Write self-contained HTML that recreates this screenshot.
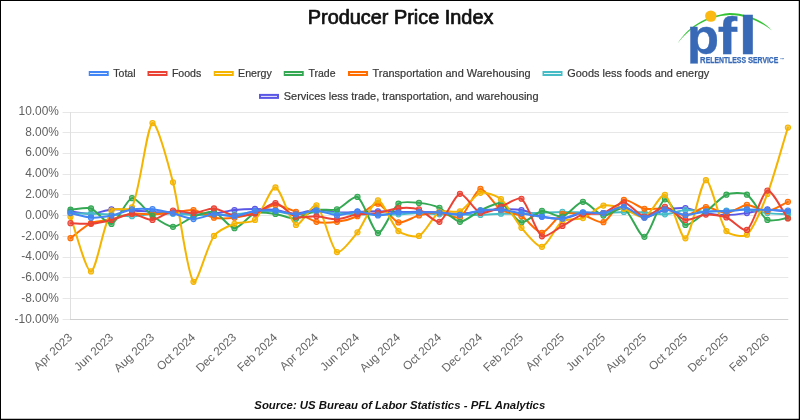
<!DOCTYPE html>
<html lang="en"><head><meta charset="utf-8"><title>Producer Price Index</title>
<style>html,body{margin:0;padding:0;background:#fff;}body{width:800px;height:420px;overflow:hidden;}svg{display:block;will-change:transform;opacity:0.999;}text{font-family:"Liberation Sans",Arial,sans-serif;}</style></head><body>
<svg width="800" height="420" viewBox="0 0 800 420">
<text x="400.6" y="23.5" text-anchor="middle" font-size="19.3" fill="#111" stroke="#111" stroke-width="0.7" stroke-linejoin="round" textLength="185.6" lengthAdjust="spacingAndGlyphs">Producer Price Index</text>
<g id="logo">
<path d="M677.6 43.4 C687.5 27.5 705 15.6 729.5 13 C747 13.2 762 20 772 30.4 C761 21.6 746 15.3 729.5 14.9 C706 16.6 689 28.3 677.6 43.4Z" fill="#35c335"/>
<circle cx="710.8" cy="16.1" r="5.7" fill="#fdb913"/>
<g font-size="100" font-weight="bold" fill="#3769b6" stroke="#3769b6" stroke-width="0.6">
<clipPath id="pc"><rect x="680" y="0" width="45" height="63.5"/></clipPath>
<g clip-path="url(#pc)"><text transform="translate(686.79 53.7) scale(0.53 0.505)">p</text></g>
<text transform="translate(717.84 53.7) scale(0.58 0.52)">f</text>
<text transform="translate(738.13 53.7) scale(0.696 0.53)">l</text>
</g>
<text x="700.1" y="63.2" font-size="8.3" font-weight="bold" fill="#3769b6" stroke="#3769b6" stroke-width="0.25" textLength="78.3" lengthAdjust="spacingAndGlyphs"><tspan font-size="9.3">R</tspan>ELENTLESS <tspan font-size="9.3">S</tspan>ERVICE</text>
<text x="779.8" y="60.6" font-size="4.5" font-weight="bold" fill="#3769b6">™</text>
</g>
<rect x="89.75" y="72.00" width="18" height="3" fill="#4285f4" fill-opacity="0.12" stroke="#4285f4" stroke-width="2"/>
<text x="113.30" y="77.10" font-size="11.2" fill="#383838" stroke="#383838" stroke-width="0.22" textLength="22.3" lengthAdjust="spacingAndGlyphs">Total</text>
<rect x="148.50" y="72.00" width="18" height="3" fill="#ea4335" fill-opacity="0.12" stroke="#ea4335" stroke-width="2"/>
<text x="171.90" y="77.10" font-size="11.2" fill="#383838" stroke="#383838" stroke-width="0.22" textLength="29.4" lengthAdjust="spacingAndGlyphs">Foods</text>
<rect x="214.75" y="72.00" width="18" height="3" fill="#f4b400" fill-opacity="0.12" stroke="#f4b400" stroke-width="2"/>
<text x="238.10" y="77.10" font-size="11.2" fill="#383838" stroke="#383838" stroke-width="0.22" textLength="33.7" lengthAdjust="spacingAndGlyphs">Energy</text>
<rect x="284.75" y="72.00" width="18" height="3" fill="#34a853" fill-opacity="0.12" stroke="#34a853" stroke-width="2"/>
<text x="308.50" y="77.10" font-size="11.2" fill="#383838" stroke="#383838" stroke-width="0.22" textLength="27.0" lengthAdjust="spacingAndGlyphs">Trade</text>
<rect x="349.00" y="72.00" width="18" height="3" fill="#ff6d01" fill-opacity="0.12" stroke="#ff6d01" stroke-width="2"/>
<text x="372.60" y="77.10" font-size="11.2" fill="#383838" stroke="#383838" stroke-width="0.22" textLength="158" lengthAdjust="spacingAndGlyphs">Transportation and Warehousing</text>
<rect x="543.50" y="72.00" width="18" height="3" fill="#46bdc6" fill-opacity="0.12" stroke="#46bdc6" stroke-width="2"/>
<text x="567.30" y="77.10" font-size="11.2" fill="#383838" stroke="#383838" stroke-width="0.22" textLength="142" lengthAdjust="spacingAndGlyphs">Goods less foods and energy</text>
<rect x="260.00" y="94.90" width="18" height="3" fill="#5b57e6" fill-opacity="0.12" stroke="#5b57e6" stroke-width="2"/>
<text x="283.80" y="100.00" font-size="11.2" fill="#383838" stroke="#383838" stroke-width="0.22" textLength="254.7" lengthAdjust="spacingAndGlyphs">Services less trade, transportation, and warehousing</text>
<path d="M62.6 112.5H788.30M62.6 132.5H788.30M62.6 153.5H788.30M62.6 174.5H788.30M62.6 194.5H788.30M62.6 215.5H788.30M62.6 236.5H788.30M62.6 257.5H788.30M62.6 277.5H788.30M62.6 298.5H788.30" stroke="#e7e7e7" stroke-width="1" fill="none"/>
<path d="M62.6 319.5H70.5" stroke="#e7e7e7" stroke-width="1" fill="none"/>
<path d="M70.5 112V320" stroke="#dfdfdf" stroke-width="1" fill="none"/>
<path d="M70.0 319.5H788.30" stroke="#cfcfcf" stroke-width="1" fill="none"/>
<text x="58.9" y="114.80" text-anchor="end" font-size="11.9" fill="#616161">10.00%</text>
<text x="58.9" y="135.60" text-anchor="end" font-size="11.9" fill="#616161">8.00%</text>
<text x="58.9" y="156.40" text-anchor="end" font-size="11.9" fill="#616161">6.00%</text>
<text x="58.9" y="177.20" text-anchor="end" font-size="11.9" fill="#616161">4.00%</text>
<text x="58.9" y="198.00" text-anchor="end" font-size="11.9" fill="#616161">2.00%</text>
<text x="58.9" y="218.80" text-anchor="end" font-size="11.9" fill="#616161">0.00%</text>
<text x="58.9" y="239.60" text-anchor="end" font-size="11.9" fill="#616161">-2.00%</text>
<text x="58.9" y="260.40" text-anchor="end" font-size="11.9" fill="#616161">-4.00%</text>
<text x="58.9" y="281.20" text-anchor="end" font-size="11.9" fill="#616161">-6.00%</text>
<text x="58.9" y="302.00" text-anchor="end" font-size="11.9" fill="#616161">-8.00%</text>
<text x="58.9" y="322.80" text-anchor="end" font-size="11.9" fill="#616161">-10.00%</text>
<text transform="translate(73.10 338.30) rotate(-43.2)" text-anchor="end" font-size="11.75" fill="#666">Apr 2023</text>
<text transform="translate(114.09 338.30) rotate(-43.2)" text-anchor="end" font-size="11.75" fill="#666">Jun 2023</text>
<text transform="translate(155.09 338.30) rotate(-43.2)" text-anchor="end" font-size="11.75" fill="#666">Aug 2023</text>
<text transform="translate(196.08 338.30) rotate(-43.2)" text-anchor="end" font-size="11.75" fill="#666">Oct 2024</text>
<text transform="translate(237.08 338.30) rotate(-43.2)" text-anchor="end" font-size="11.75" fill="#666">Dec 2023</text>
<text transform="translate(278.07 338.30) rotate(-43.2)" text-anchor="end" font-size="11.75" fill="#666">Feb 2024</text>
<text transform="translate(319.07 338.30) rotate(-43.2)" text-anchor="end" font-size="11.75" fill="#666">Apr 2024</text>
<text transform="translate(360.06 338.30) rotate(-43.2)" text-anchor="end" font-size="11.75" fill="#666">Jun 2024</text>
<text transform="translate(401.05 338.30) rotate(-43.2)" text-anchor="end" font-size="11.75" fill="#666">Aug 2024</text>
<text transform="translate(442.05 338.30) rotate(-43.2)" text-anchor="end" font-size="11.75" fill="#666">Oct 2024</text>
<text transform="translate(483.04 338.30) rotate(-43.2)" text-anchor="end" font-size="11.75" fill="#666">Dec 2024</text>
<text transform="translate(524.04 338.30) rotate(-43.2)" text-anchor="end" font-size="11.75" fill="#666">Feb 2025</text>
<text transform="translate(565.03 338.30) rotate(-43.2)" text-anchor="end" font-size="11.75" fill="#666">Apr 2025</text>
<text transform="translate(606.03 338.30) rotate(-43.2)" text-anchor="end" font-size="11.75" fill="#666">Jun 2025</text>
<text transform="translate(647.02 338.30) rotate(-43.2)" text-anchor="end" font-size="11.75" fill="#666">Aug 2025</text>
<text transform="translate(688.01 338.30) rotate(-43.2)" text-anchor="end" font-size="11.75" fill="#666">Oct 2025</text>
<text transform="translate(729.01 338.30) rotate(-43.2)" text-anchor="end" font-size="11.75" fill="#666">Dec 2025</text>
<text transform="translate(770.00 338.30) rotate(-43.2)" text-anchor="end" font-size="11.75" fill="#666">Feb 2026</text>
<path d="M70.50 211.46C75.62 212.11 85.92 214.31 91.00 214.05C96.17 213.79 106.31 209.85 111.49 209.40C116.56 208.95 126.87 210.12 131.99 210.43C137.12 210.74 147.36 211.62 152.49 211.88C157.61 212.14 167.87 212.19 172.99 212.50C178.12 212.81 188.35 214.20 193.48 214.36C198.60 214.51 208.90 214.28 213.98 213.74C219.14 213.19 229.31 210.62 234.48 210.02C239.56 209.43 249.85 208.98 254.97 208.98C260.10 208.98 270.39 209.43 275.47 210.02C280.63 210.62 290.86 213.82 295.97 213.74C301.11 213.66 311.31 209.55 316.47 209.40C321.56 209.24 331.81 212.19 336.96 212.50C342.06 212.81 352.34 212.03 357.46 211.88C362.58 211.72 372.83 211.26 377.96 211.26C383.08 211.26 393.33 211.80 398.45 211.88C403.58 211.96 413.83 211.84 418.95 211.88C424.08 211.92 434.33 211.96 439.45 212.19C444.58 212.42 454.83 213.85 459.95 213.74C465.08 213.62 475.31 211.80 480.44 211.26C485.56 210.72 495.81 209.55 500.94 209.40C506.05 209.24 516.43 209.16 521.44 210.02C526.68 210.92 536.70 215.35 541.93 216.43C546.95 217.47 557.38 218.90 562.43 218.50C567.63 218.08 577.72 213.80 582.93 213.12C587.97 212.46 598.40 213.83 603.43 213.12C608.65 212.38 618.98 206.80 623.92 207.33C629.23 207.89 639.17 217.12 644.42 217.46C649.42 217.79 659.64 211.21 664.92 210.02C669.89 208.89 680.35 207.77 685.41 208.16C690.60 208.55 700.72 212.25 705.91 213.12C710.97 213.96 721.28 214.98 726.41 214.98C731.53 214.98 741.81 213.81 746.91 213.12C752.06 212.42 762.26 209.55 767.40 209.40C772.50 209.24 782.78 211.26 787.90 211.88" fill="none" stroke="#5b57e6" stroke-width="2.0" stroke-linejoin="round" stroke-linecap="round"/>
<g fill="#5b57e6" fill-opacity="0.62" stroke="#5b57e6" stroke-width="1.05"><circle cx="70.50" cy="211.46" r="2.6"/><circle cx="91.00" cy="214.05" r="2.6"/><circle cx="111.49" cy="209.40" r="2.6"/><circle cx="131.99" cy="210.43" r="2.6"/><circle cx="152.49" cy="211.88" r="2.6"/><circle cx="172.99" cy="212.50" r="2.6"/><circle cx="193.48" cy="214.36" r="2.6"/><circle cx="213.98" cy="213.74" r="2.6"/><circle cx="234.48" cy="210.02" r="2.6"/><circle cx="254.97" cy="208.98" r="2.6"/><circle cx="275.47" cy="210.02" r="2.6"/><circle cx="295.97" cy="213.74" r="2.6"/><circle cx="316.47" cy="209.40" r="2.6"/><circle cx="336.96" cy="212.50" r="2.6"/><circle cx="357.46" cy="211.88" r="2.6"/><circle cx="377.96" cy="211.26" r="2.6"/><circle cx="398.45" cy="211.88" r="2.6"/><circle cx="418.95" cy="211.88" r="2.6"/><circle cx="439.45" cy="212.19" r="2.6"/><circle cx="459.95" cy="213.74" r="2.6"/><circle cx="480.44" cy="211.26" r="2.6"/><circle cx="500.94" cy="209.40" r="2.6"/><circle cx="521.44" cy="210.02" r="2.6"/><circle cx="541.93" cy="216.43" r="2.6"/><circle cx="562.43" cy="218.50" r="2.6"/><circle cx="582.93" cy="213.12" r="2.6"/><circle cx="603.43" cy="213.12" r="2.6"/><circle cx="623.92" cy="207.33" r="2.6"/><circle cx="644.42" cy="217.46" r="2.6"/><circle cx="664.92" cy="210.02" r="2.6"/><circle cx="685.41" cy="208.16" r="2.6"/><circle cx="705.91" cy="213.12" r="2.6"/><circle cx="726.41" cy="214.98" r="2.6"/><circle cx="746.91" cy="213.12" r="2.6"/><circle cx="767.40" cy="209.40" r="2.6"/><circle cx="787.90" cy="211.88" r="2.6"/></g>
<path d="M70.50 213.53C75.62 213.53 85.88 213.40 91.00 213.53C96.12 213.66 106.38 214.23 111.49 214.57C116.62 214.90 126.88 216.32 131.99 216.22C137.13 216.12 147.35 214.05 152.49 213.74C157.59 213.43 167.87 213.58 172.99 213.74C178.11 213.89 188.35 214.82 193.48 214.98C198.60 215.13 208.86 215.06 213.98 214.98C219.11 214.90 229.37 214.75 234.48 214.36C239.62 213.97 249.83 212.27 254.97 211.88C260.08 211.49 270.39 210.87 275.47 211.26C280.64 211.65 290.83 214.90 295.97 214.98C301.08 215.06 311.32 212.11 316.47 211.88C321.57 211.65 331.84 212.81 336.96 213.12C342.09 213.43 352.33 214.20 357.46 214.36C362.58 214.51 372.83 214.36 377.96 214.36C383.08 214.36 393.33 214.51 398.45 214.36C403.58 214.20 413.83 213.12 418.95 213.12C424.08 213.12 434.32 214.20 439.45 214.36C444.57 214.51 454.82 214.28 459.95 214.36C465.07 214.44 475.32 215.06 480.44 214.98C485.57 214.90 495.81 213.89 500.94 213.74C506.06 213.58 516.32 213.87 521.44 213.74C526.56 213.61 536.81 212.94 541.93 212.70C547.06 212.47 557.31 211.90 562.43 211.88C567.55 211.85 577.80 212.34 582.93 212.50C588.05 212.65 598.30 213.20 603.43 213.12C608.55 213.04 618.80 211.96 623.92 211.88C629.04 211.80 639.31 212.19 644.42 212.50C649.55 212.81 659.84 214.67 664.92 214.36C670.09 214.05 680.24 210.33 685.41 210.02C690.49 209.71 700.78 211.80 705.91 211.88C711.03 211.96 721.28 210.95 726.41 210.64C731.53 210.33 741.82 209.09 746.91 209.40C752.07 209.71 762.24 212.49 767.40 213.12C772.49 213.73 782.78 214.05 787.90 214.36" fill="none" stroke="#46bdc6" stroke-width="2.0" stroke-linejoin="round" stroke-linecap="round"/>
<g fill="#46bdc6" fill-opacity="0.62" stroke="#46bdc6" stroke-width="1.05"><circle cx="70.50" cy="213.53" r="2.6"/><circle cx="91.00" cy="213.53" r="2.6"/><circle cx="111.49" cy="214.57" r="2.6"/><circle cx="131.99" cy="216.22" r="2.6"/><circle cx="152.49" cy="213.74" r="2.6"/><circle cx="172.99" cy="213.74" r="2.6"/><circle cx="193.48" cy="214.98" r="2.6"/><circle cx="213.98" cy="214.98" r="2.6"/><circle cx="234.48" cy="214.36" r="2.6"/><circle cx="254.97" cy="211.88" r="2.6"/><circle cx="275.47" cy="211.26" r="2.6"/><circle cx="295.97" cy="214.98" r="2.6"/><circle cx="316.47" cy="211.88" r="2.6"/><circle cx="336.96" cy="213.12" r="2.6"/><circle cx="357.46" cy="214.36" r="2.6"/><circle cx="377.96" cy="214.36" r="2.6"/><circle cx="398.45" cy="214.36" r="2.6"/><circle cx="418.95" cy="213.12" r="2.6"/><circle cx="439.45" cy="214.36" r="2.6"/><circle cx="459.95" cy="214.36" r="2.6"/><circle cx="480.44" cy="214.98" r="2.6"/><circle cx="500.94" cy="213.74" r="2.6"/><circle cx="521.44" cy="213.74" r="2.6"/><circle cx="541.93" cy="212.70" r="2.6"/><circle cx="562.43" cy="211.88" r="2.6"/><circle cx="582.93" cy="212.50" r="2.6"/><circle cx="603.43" cy="213.12" r="2.6"/><circle cx="623.92" cy="211.88" r="2.6"/><circle cx="644.42" cy="212.50" r="2.6"/><circle cx="664.92" cy="214.36" r="2.6"/><circle cx="685.41" cy="210.02" r="2.6"/><circle cx="705.91" cy="211.88" r="2.6"/><circle cx="726.41" cy="210.64" r="2.6"/><circle cx="746.91" cy="209.40" r="2.6"/><circle cx="767.40" cy="213.12" r="2.6"/><circle cx="787.90" cy="214.36" r="2.6"/></g>
<path d="M70.50 238.14C75.62 234.39 85.37 225.73 91.00 223.15C95.62 221.03 106.42 220.49 111.49 219.32C116.67 218.14 126.78 214.37 131.99 213.74C137.03 213.13 147.37 214.51 152.49 214.36C157.62 214.20 167.87 213.04 172.99 212.50C178.12 211.95 188.51 209.39 193.48 210.02C198.76 210.68 208.69 216.68 213.98 217.67C218.94 218.59 229.43 218.28 234.48 217.67C239.67 217.04 249.95 214.26 254.97 212.70C260.20 211.08 270.31 205.05 275.47 204.95C280.56 204.85 290.98 209.82 295.97 211.88C301.22 214.04 311.07 220.50 316.47 221.80C321.32 222.98 331.93 222.49 336.96 221.80C342.18 221.09 352.65 218.34 357.46 216.22C362.90 213.82 373.20 202.99 377.96 203.71C383.45 204.54 392.70 220.78 398.45 222.42C402.95 223.71 413.71 216.66 418.95 215.39C423.96 214.18 434.37 212.24 439.45 212.50C444.62 212.76 456.10 219.67 459.95 217.46C466.35 213.78 474.86 189.95 480.44 188.92C485.11 188.06 495.02 205.97 500.94 209.91C505.27 212.79 516.84 213.66 521.44 216.22C527.09 219.37 536.96 233.05 541.93 232.76C547.21 232.46 556.53 216.40 562.43 213.84C566.78 211.96 577.95 213.96 582.93 214.98C588.20 216.06 599.14 223.79 603.43 222.22C609.39 220.04 618.02 201.92 623.92 199.99C628.27 198.56 639.08 207.63 644.42 208.78C649.33 209.83 659.93 207.94 664.92 208.78C670.18 209.65 680.36 215.82 685.41 215.60C690.61 215.38 700.69 207.33 705.91 207.02C710.94 206.71 721.36 213.37 726.41 213.12C731.61 212.86 741.71 205.19 746.91 204.95C751.96 204.72 762.41 211.64 767.40 211.26C772.66 210.86 782.78 204.20 787.90 201.85" fill="none" stroke="#ff6d01" stroke-width="2.0" stroke-linejoin="round" stroke-linecap="round"/>
<g fill="#ff6d01" fill-opacity="0.62" stroke="#ff6d01" stroke-width="1.05"><circle cx="70.50" cy="238.14" r="2.6"/><circle cx="91.00" cy="223.15" r="2.6"/><circle cx="111.49" cy="219.32" r="2.6"/><circle cx="131.99" cy="213.74" r="2.6"/><circle cx="152.49" cy="214.36" r="2.6"/><circle cx="172.99" cy="212.50" r="2.6"/><circle cx="193.48" cy="210.02" r="2.6"/><circle cx="213.98" cy="217.67" r="2.6"/><circle cx="234.48" cy="217.67" r="2.6"/><circle cx="254.97" cy="212.70" r="2.6"/><circle cx="275.47" cy="204.95" r="2.6"/><circle cx="295.97" cy="211.88" r="2.6"/><circle cx="316.47" cy="221.80" r="2.6"/><circle cx="336.96" cy="221.80" r="2.6"/><circle cx="357.46" cy="216.22" r="2.6"/><circle cx="377.96" cy="203.71" r="2.6"/><circle cx="398.45" cy="222.42" r="2.6"/><circle cx="418.95" cy="215.39" r="2.6"/><circle cx="439.45" cy="212.50" r="2.6"/><circle cx="459.95" cy="217.46" r="2.6"/><circle cx="480.44" cy="188.92" r="2.6"/><circle cx="500.94" cy="209.91" r="2.6"/><circle cx="521.44" cy="216.22" r="2.6"/><circle cx="541.93" cy="232.76" r="2.6"/><circle cx="562.43" cy="213.84" r="2.6"/><circle cx="582.93" cy="214.98" r="2.6"/><circle cx="603.43" cy="222.22" r="2.6"/><circle cx="623.92" cy="199.99" r="2.6"/><circle cx="644.42" cy="208.78" r="2.6"/><circle cx="664.92" cy="208.78" r="2.6"/><circle cx="685.41" cy="215.60" r="2.6"/><circle cx="705.91" cy="207.02" r="2.6"/><circle cx="726.41" cy="213.12" r="2.6"/><circle cx="746.91" cy="204.95" r="2.6"/><circle cx="767.40" cy="211.26" r="2.6"/><circle cx="787.90" cy="201.85" r="2.6"/></g>
<path d="M70.50 209.71C75.62 209.40 86.45 206.88 91.00 208.47C96.69 210.45 107.01 225.11 111.49 223.98C117.25 222.52 126.37 199.23 131.99 198.13C136.62 197.22 146.97 212.04 152.49 215.91C157.22 219.23 167.82 226.78 172.99 226.87C178.07 226.96 188.14 218.59 193.48 216.63C198.39 214.84 209.42 210.59 213.98 211.88C219.66 213.48 229.28 228.06 234.48 228.21C239.53 228.37 249.30 215.09 254.97 213.12C259.55 211.53 270.41 213.26 275.47 213.95C280.66 214.65 290.99 219.18 295.97 218.70C301.24 218.20 311.13 211.23 316.47 210.02C321.38 208.90 332.24 210.91 336.96 209.40C342.49 207.63 353.71 194.72 357.46 196.88C363.96 200.64 372.45 232.16 377.96 233.07C382.70 233.86 391.94 208.51 398.45 203.71C402.19 200.96 413.90 202.37 418.95 202.88C424.15 203.41 434.74 205.67 439.45 207.84C444.99 210.40 454.68 221.47 459.95 221.80C464.93 222.12 475.11 212.81 480.44 210.43C485.36 208.23 496.46 202.19 500.94 203.50C506.71 205.19 515.87 221.41 521.44 222.42C526.12 223.28 536.56 211.71 541.93 210.95C546.80 210.26 557.75 217.67 562.43 216.63C568.00 215.40 577.74 201.98 582.93 201.85C587.99 201.72 597.98 214.73 603.43 215.60C608.22 216.36 620.00 206.33 623.92 208.36C630.25 211.63 639.80 237.81 644.42 236.80C650.05 235.56 659.12 201.05 664.92 199.37C669.37 198.08 679.53 223.11 685.41 224.91C689.78 226.24 701.03 215.47 705.91 211.88C711.28 207.92 720.61 197.14 726.41 194.71C730.86 192.85 742.94 192.27 746.91 194.71C753.19 198.58 761.13 216.37 767.40 219.94C771.38 222.21 782.78 218.55 787.90 218.08" fill="none" stroke="#34a853" stroke-width="2.0" stroke-linejoin="round" stroke-linecap="round"/>
<g fill="#34a853" fill-opacity="0.62" stroke="#34a853" stroke-width="1.05"><circle cx="70.50" cy="209.71" r="2.6"/><circle cx="91.00" cy="208.47" r="2.6"/><circle cx="111.49" cy="223.98" r="2.6"/><circle cx="131.99" cy="198.13" r="2.6"/><circle cx="152.49" cy="215.91" r="2.6"/><circle cx="172.99" cy="226.87" r="2.6"/><circle cx="193.48" cy="216.63" r="2.6"/><circle cx="213.98" cy="211.88" r="2.6"/><circle cx="234.48" cy="228.21" r="2.6"/><circle cx="254.97" cy="213.12" r="2.6"/><circle cx="275.47" cy="213.95" r="2.6"/><circle cx="295.97" cy="218.70" r="2.6"/><circle cx="316.47" cy="210.02" r="2.6"/><circle cx="336.96" cy="209.40" r="2.6"/><circle cx="357.46" cy="196.88" r="2.6"/><circle cx="377.96" cy="233.07" r="2.6"/><circle cx="398.45" cy="203.71" r="2.6"/><circle cx="418.95" cy="202.88" r="2.6"/><circle cx="439.45" cy="207.84" r="2.6"/><circle cx="459.95" cy="221.80" r="2.6"/><circle cx="480.44" cy="210.43" r="2.6"/><circle cx="500.94" cy="203.50" r="2.6"/><circle cx="521.44" cy="222.42" r="2.6"/><circle cx="541.93" cy="210.95" r="2.6"/><circle cx="562.43" cy="216.63" r="2.6"/><circle cx="582.93" cy="201.85" r="2.6"/><circle cx="603.43" cy="215.60" r="2.6"/><circle cx="623.92" cy="208.36" r="2.6"/><circle cx="644.42" cy="236.80" r="2.6"/><circle cx="664.92" cy="199.37" r="2.6"/><circle cx="685.41" cy="224.91" r="2.6"/><circle cx="705.91" cy="211.88" r="2.6"/><circle cx="726.41" cy="194.71" r="2.6"/><circle cx="746.91" cy="194.71" r="2.6"/><circle cx="767.40" cy="219.94" r="2.6"/><circle cx="787.90" cy="218.08" r="2.6"/></g>
<path d="M70.50 216.84C75.62 230.49 86.12 272.17 91.00 271.44C96.37 270.62 103.75 222.73 111.49 210.64C114.00 206.73 130.01 211.65 131.99 207.43C140.26 189.76 146.54 126.70 152.49 123.06C156.79 120.42 169.07 167.16 172.99 182.31C179.32 206.84 186.62 272.80 193.48 281.78C196.87 286.21 207.03 245.80 213.98 235.97C217.28 231.30 229.01 225.91 234.48 223.77C239.26 221.90 251.37 223.14 254.97 219.94C261.62 214.06 270.62 186.89 275.47 187.48C280.87 188.13 289.81 222.24 295.97 224.91C300.06 226.68 312.81 202.83 316.47 205.26C323.06 209.63 330.38 247.75 336.96 252.10C340.63 254.52 353.07 237.89 357.46 232.35C363.32 224.96 372.76 200.56 377.96 200.40C383.01 200.25 391.93 225.45 398.45 231.11C402.18 234.34 414.85 237.89 418.95 235.97C425.10 233.08 433.23 215.63 439.45 211.88C443.48 209.45 455.57 213.29 459.95 211.26C465.82 208.53 474.68 194.57 480.44 192.85C484.93 191.52 497.07 195.76 500.94 199.06C507.32 204.49 515.72 221.14 521.44 227.80C525.97 233.08 537.22 247.59 541.93 246.83C547.47 245.93 556.15 225.59 562.43 221.18C566.40 218.40 578.18 219.89 582.93 218.08C588.43 215.99 597.93 206.82 603.43 205.57C608.18 204.49 618.97 207.36 623.92 208.78C629.22 210.28 640.09 218.72 644.42 217.25C650.34 215.25 660.95 192.88 664.92 194.92C671.20 198.15 680.93 239.96 685.41 238.35C691.17 236.29 700.49 181.19 705.91 180.24C710.74 179.39 718.98 221.23 726.41 231.11C729.23 234.86 743.70 237.64 746.91 234.73C753.95 228.34 763.34 204.52 767.40 193.89C773.59 177.72 782.78 144.10 787.90 127.50" fill="none" stroke="#f4b400" stroke-width="2.0" stroke-linejoin="round" stroke-linecap="round"/>
<g fill="#f4b400" fill-opacity="0.62" stroke="#f4b400" stroke-width="1.05"><circle cx="70.50" cy="216.84" r="2.6"/><circle cx="91.00" cy="271.44" r="2.6"/><circle cx="111.49" cy="210.64" r="2.6"/><circle cx="131.99" cy="207.43" r="2.6"/><circle cx="152.49" cy="123.06" r="2.6"/><circle cx="172.99" cy="182.31" r="2.6"/><circle cx="193.48" cy="281.78" r="2.6"/><circle cx="213.98" cy="235.97" r="2.6"/><circle cx="234.48" cy="223.77" r="2.6"/><circle cx="254.97" cy="219.94" r="2.6"/><circle cx="275.47" cy="187.48" r="2.6"/><circle cx="295.97" cy="224.91" r="2.6"/><circle cx="316.47" cy="205.26" r="2.6"/><circle cx="336.96" cy="252.10" r="2.6"/><circle cx="357.46" cy="232.35" r="2.6"/><circle cx="377.96" cy="200.40" r="2.6"/><circle cx="398.45" cy="231.11" r="2.6"/><circle cx="418.95" cy="235.97" r="2.6"/><circle cx="439.45" cy="211.88" r="2.6"/><circle cx="459.95" cy="211.26" r="2.6"/><circle cx="480.44" cy="192.85" r="2.6"/><circle cx="500.94" cy="199.06" r="2.6"/><circle cx="521.44" cy="227.80" r="2.6"/><circle cx="541.93" cy="246.83" r="2.6"/><circle cx="562.43" cy="221.18" r="2.6"/><circle cx="582.93" cy="218.08" r="2.6"/><circle cx="603.43" cy="205.57" r="2.6"/><circle cx="623.92" cy="208.78" r="2.6"/><circle cx="644.42" cy="217.25" r="2.6"/><circle cx="664.92" cy="194.92" r="2.6"/><circle cx="685.41" cy="238.35" r="2.6"/><circle cx="705.91" cy="180.24" r="2.6"/><circle cx="726.41" cy="231.11" r="2.6"/><circle cx="746.91" cy="234.73" r="2.6"/><circle cx="767.40" cy="193.89" r="2.6"/><circle cx="787.90" cy="127.50" r="2.6"/></g>
<path d="M70.50 223.15C75.62 223.30 85.92 224.17 91.00 223.77C96.16 223.36 106.44 221.18 111.49 219.94C116.69 218.67 126.87 213.74 131.99 213.74C137.12 213.74 147.49 220.32 152.49 219.94C157.74 219.55 167.64 211.53 172.99 210.64C177.89 209.82 188.40 213.39 193.48 213.12C198.65 212.84 208.94 208.16 213.98 208.47C219.19 208.78 229.22 214.92 234.48 215.60C239.47 216.24 250.15 215.21 254.97 213.74C260.39 212.08 270.52 202.71 275.47 203.09C280.77 203.49 290.37 215.05 295.97 216.84C300.62 218.33 311.37 215.91 316.47 216.22C321.62 216.53 331.88 219.55 336.96 219.32C342.13 219.09 352.27 215.15 357.46 214.36C362.52 213.59 372.90 213.88 377.96 213.12C383.15 212.33 393.26 208.63 398.45 208.16C403.51 207.70 414.22 207.82 418.95 209.40C424.47 211.23 435.26 223.40 439.45 221.80C445.51 219.49 454.28 195.01 459.95 193.78C464.52 192.79 474.63 211.06 480.44 212.91C484.88 214.32 495.89 208.56 500.94 206.81C506.14 205.01 517.95 196.24 521.44 198.75C528.20 203.61 535.27 231.86 541.93 236.28C545.51 238.65 557.37 228.65 562.43 225.94C567.62 223.17 577.45 216.07 582.93 214.36C587.70 212.87 598.60 214.52 603.43 213.12C608.85 211.54 618.99 202.05 623.92 202.47C629.24 202.92 639.06 216.07 644.42 216.63C649.31 217.15 659.97 206.41 664.92 206.81C670.22 207.24 679.94 218.91 685.41 219.94C690.18 220.85 700.73 214.88 705.91 214.57C710.98 214.26 721.66 215.68 726.41 217.46C731.91 219.53 743.31 232.33 746.91 229.97C753.56 225.61 761.64 192.19 767.40 190.58C771.89 189.32 782.78 211.52 787.90 218.50" fill="none" stroke="#ea4335" stroke-width="2.0" stroke-linejoin="round" stroke-linecap="round"/>
<g fill="#ea4335" fill-opacity="0.62" stroke="#ea4335" stroke-width="1.05"><circle cx="70.50" cy="223.15" r="2.6"/><circle cx="91.00" cy="223.77" r="2.6"/><circle cx="111.49" cy="219.94" r="2.6"/><circle cx="131.99" cy="213.74" r="2.6"/><circle cx="152.49" cy="219.94" r="2.6"/><circle cx="172.99" cy="210.64" r="2.6"/><circle cx="193.48" cy="213.12" r="2.6"/><circle cx="213.98" cy="208.47" r="2.6"/><circle cx="234.48" cy="215.60" r="2.6"/><circle cx="254.97" cy="213.74" r="2.6"/><circle cx="275.47" cy="203.09" r="2.6"/><circle cx="295.97" cy="216.84" r="2.6"/><circle cx="316.47" cy="216.22" r="2.6"/><circle cx="336.96" cy="219.32" r="2.6"/><circle cx="357.46" cy="214.36" r="2.6"/><circle cx="377.96" cy="213.12" r="2.6"/><circle cx="398.45" cy="208.16" r="2.6"/><circle cx="418.95" cy="209.40" r="2.6"/><circle cx="439.45" cy="221.80" r="2.6"/><circle cx="459.95" cy="193.78" r="2.6"/><circle cx="480.44" cy="212.91" r="2.6"/><circle cx="500.94" cy="206.81" r="2.6"/><circle cx="521.44" cy="198.75" r="2.6"/><circle cx="541.93" cy="236.28" r="2.6"/><circle cx="562.43" cy="225.94" r="2.6"/><circle cx="582.93" cy="214.36" r="2.6"/><circle cx="603.43" cy="213.12" r="2.6"/><circle cx="623.92" cy="202.47" r="2.6"/><circle cx="644.42" cy="216.63" r="2.6"/><circle cx="664.92" cy="206.81" r="2.6"/><circle cx="685.41" cy="219.94" r="2.6"/><circle cx="705.91" cy="214.57" r="2.6"/><circle cx="726.41" cy="217.46" r="2.6"/><circle cx="746.91" cy="229.97" r="2.6"/><circle cx="767.40" cy="190.58" r="2.6"/><circle cx="787.90" cy="218.50" r="2.6"/></g>
<path d="M70.50 213.12C75.62 214.26 85.82 217.35 91.00 217.67C96.07 217.98 106.47 216.61 111.49 215.60C116.72 214.55 126.75 210.21 131.99 209.40C137.00 208.61 147.42 208.70 152.49 209.19C157.66 209.69 167.91 212.11 172.99 213.33C178.15 214.56 188.33 218.88 193.48 219.01C198.58 219.14 208.80 214.71 213.98 214.36C219.05 214.01 229.42 216.64 234.48 216.22C239.67 215.79 249.77 211.66 254.97 210.95C260.02 210.26 270.39 210.21 275.47 210.64C280.64 211.07 290.85 214.39 295.97 214.36C301.10 214.33 311.37 210.30 316.47 210.43C321.62 210.56 331.81 215.26 336.96 215.39C342.06 215.52 352.34 211.46 357.46 211.46C362.58 211.46 372.81 215.26 377.96 215.39C383.06 215.52 393.30 212.90 398.45 212.50C403.55 212.10 413.83 212.19 418.95 212.19C424.08 212.19 434.34 212.18 439.45 212.50C444.59 212.82 454.86 215.03 459.95 214.77C465.11 214.51 475.26 211.07 480.44 210.43C485.51 209.80 495.85 209.35 500.94 209.71C506.10 210.07 516.31 212.43 521.44 213.33C526.56 214.22 536.78 216.17 541.93 216.84C547.03 217.51 557.42 219.26 562.43 218.70C567.66 218.12 577.69 213.01 582.93 212.29C587.94 211.61 598.42 213.79 603.43 213.12C608.66 212.42 619.00 206.26 623.92 206.81C629.25 207.40 639.17 217.34 644.42 217.67C649.42 217.98 659.69 209.74 664.92 209.40C669.94 209.07 680.24 214.72 685.41 214.98C690.48 215.24 700.75 211.93 705.91 211.46C711.00 211.00 721.29 211.52 726.41 211.26C731.54 211.00 741.77 209.55 746.91 209.40C752.02 209.24 762.28 209.86 767.40 210.02C772.53 210.17 782.78 210.48 787.90 210.64" fill="none" stroke="#4285f4" stroke-width="2.0" stroke-linejoin="round" stroke-linecap="round"/>
<g fill="#4285f4" fill-opacity="0.62" stroke="#4285f4" stroke-width="1.05"><circle cx="70.50" cy="213.12" r="2.6"/><circle cx="91.00" cy="217.67" r="2.6"/><circle cx="111.49" cy="215.60" r="2.6"/><circle cx="131.99" cy="209.40" r="2.6"/><circle cx="152.49" cy="209.19" r="2.6"/><circle cx="172.99" cy="213.33" r="2.6"/><circle cx="193.48" cy="219.01" r="2.6"/><circle cx="213.98" cy="214.36" r="2.6"/><circle cx="234.48" cy="216.22" r="2.6"/><circle cx="254.97" cy="210.95" r="2.6"/><circle cx="275.47" cy="210.64" r="2.6"/><circle cx="295.97" cy="214.36" r="2.6"/><circle cx="316.47" cy="210.43" r="2.6"/><circle cx="336.96" cy="215.39" r="2.6"/><circle cx="357.46" cy="211.46" r="2.6"/><circle cx="377.96" cy="215.39" r="2.6"/><circle cx="398.45" cy="212.50" r="2.6"/><circle cx="418.95" cy="212.19" r="2.6"/><circle cx="439.45" cy="212.50" r="2.6"/><circle cx="459.95" cy="214.77" r="2.6"/><circle cx="480.44" cy="210.43" r="2.6"/><circle cx="500.94" cy="209.71" r="2.6"/><circle cx="521.44" cy="213.33" r="2.6"/><circle cx="541.93" cy="216.84" r="2.6"/><circle cx="562.43" cy="218.70" r="2.6"/><circle cx="582.93" cy="212.29" r="2.6"/><circle cx="603.43" cy="213.12" r="2.6"/><circle cx="623.92" cy="206.81" r="2.6"/><circle cx="644.42" cy="217.67" r="2.6"/><circle cx="664.92" cy="209.40" r="2.6"/><circle cx="685.41" cy="214.98" r="2.6"/><circle cx="705.91" cy="211.46" r="2.6"/><circle cx="726.41" cy="211.26" r="2.6"/><circle cx="746.91" cy="209.40" r="2.6"/><circle cx="767.40" cy="210.02" r="2.6"/><circle cx="787.90" cy="210.64" r="2.6"/></g>
<text x="254.3" y="408.7" font-size="11.6" font-weight="bold" font-style="italic" fill="#111" textLength="291" lengthAdjust="spacingAndGlyphs">Source: US Bureau of Labor Statistics - PFL Analytics</text>
<path d="M0 0H800V420H0Z M1 1V418.75H798.75V1Z" fill="#000" fill-rule="evenodd"/>
</svg></body></html>
